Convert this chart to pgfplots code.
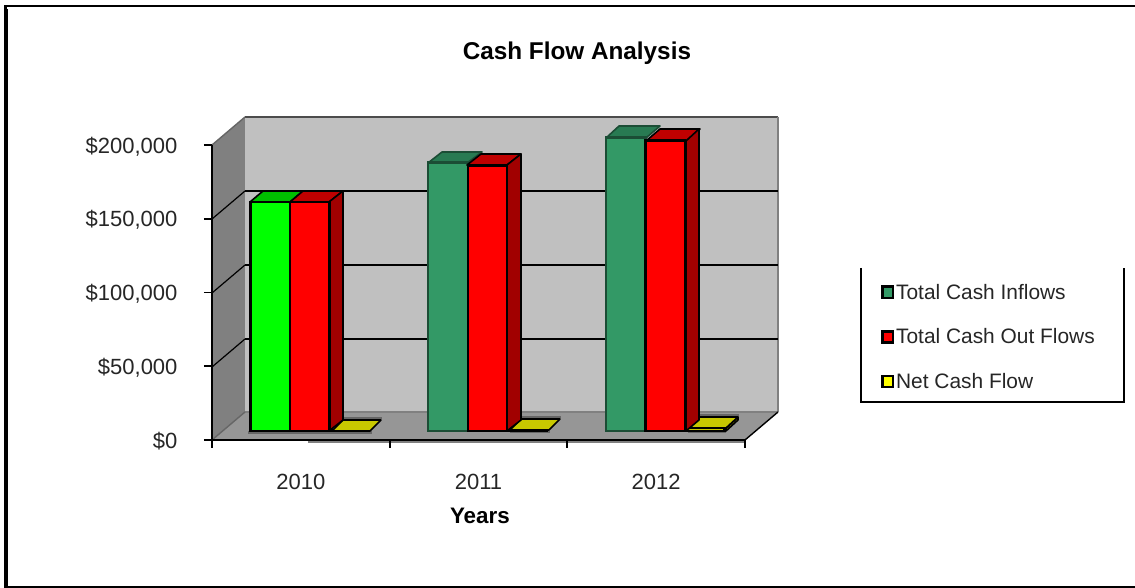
\documentclass[border=0pt]{standalone}
\usepackage{pgfplots}
\pgfplotsset{compat=1.18}
\usepackage{fontspec}
\setmainfont{Liberation Sans}
\definecolor{sea}{HTML}{339966}
\definecolor{seatop}{HTML}{287A52}
\definecolor{seaedge}{HTML}{1B4D35}
\definecolor{wallback}{HTML}{C0C0C0}
\definecolor{wallside}{HTML}{808080}
\definecolor{wallfloor}{HTML}{969696}
\definecolor{yel}{HTML}{FFFF00}
\definecolor{yeltop}{HTML}{C8C800}
\definecolor{yelside}{HTML}{8A8A00}
\pgfplotsset{
  px/.style={forget plot,no markers,
    x filter/.expression={(x-212)/177.667},
    y filter/.expression={(440-y)*677.97}},
  face/.style={px,draw=#1,line width=1.6pt,line join=round},
  wall/.style={px,draw=none},
  barstyle/.style={forget plot,ybar,bar width=39.5pt,xshift=9pt,yshift=9pt,line width=2.2pt},
}
\begin{document}
\begin{tikzpicture}[x=1pt,y=1pt]
\path[use as bounding box] (0,0) rectangle (1135,588);
\fill[white] (0,0) rectangle (1135,588);
\draw[black,line width=2.4pt] (1135,582) -- (5.5,582) -- (5.5,0);
\draw[black,line width=1pt] (7.5,579) -- (7.5,0);
\draw[black,line width=1.6pt] (5.5,0.8) -- (1135,0.8);
\begin{axis}[
  at={(212pt,148pt)},anchor=south west,
  scale only axis,width=533pt,height=295pt,
  xmin=0,xmax=3,ymin=0,ymax=200000,
  clip=false,axis on top,
  axis x line*=bottom,axis y line*=left,
  axis line style={black,line width=1.8pt},
  scaled y ticks=false,
  xtick={0,1,2,3},xticklabels={2010,2011,2012},x tick label as interval,
  ytick={0,50000,100000,150000,200000},
  yticklabels={{\$0},{\$50,000},{\$100,000},{\$150,000},{\$200,000}},
  tick align=outside,major tick length=8pt,
  tick style={black,line width=1.8pt},
  tick label style={font=\fontsize{22}{24}\selectfont,text=black!85},
  y tick label style={xshift=-23pt,yshift=-1.5pt},
  x tick label style={yshift=-23pt},
  title={\fontsize{24.3}{26}\selectfont\bfseries Cash Flow Analysis},
  title style={at={(axis cs:2.054,258300)},anchor=center},
  xlabel={\fontsize{22.4}{24}\selectfont\bfseries Years},
  xlabel style={at={(axis cs:1.508,-51500)},anchor=center},
  legend style={at={(axis cs:3.765,107300)},anchor=north west,draw=none,fill=none,
    font=\fontsize{20.9}{23}\selectfont,text=black!85,row sep=24pt,inner sep=0pt,
    /tikz/every even column/.style={column sep=1pt}},
  legend cell align=left,
]
\addlegendimage{legend image code/.code={\draw[black,line width=2.6pt,fill=sea] (0pt,-5.6pt) rectangle (10.4pt,5.6pt);}}
\addlegendentry{Total Cash Inflows}
\addlegendimage{legend image code/.code={\draw[black,line width=2.6pt,fill=red] (0pt,-5.6pt) rectangle (10.4pt,5.6pt);}}
\addlegendentry{Total Cash Out Flows}
\addlegendimage{legend image code/.code={\draw[black,line width=2.6pt,fill=yel] (0pt,-5.6pt) rectangle (10.4pt,5.6pt);}}
\addlegendentry{Net Cash Flow}

% walls and floor (pixel positions of the reference)
\addplot[wall,fill=wallside] coordinates {(212,145)(245,117)(245,412)(212,440)} --cycle;
\addplot[wall,fill=wallback] coordinates {(245,117)(778,117)(778,412)(245,412)} --cycle;
\addplot[wall,fill=wallfloor] coordinates {(212,440)(245,412)(778,412)(745,440)} --cycle;
\addplot[px,draw=black!70,line width=1.6pt] coordinates {(245,117)(778,117)};
\addplot[px,draw=wallside,line width=2pt] coordinates {(778,117)(778,412)};
\addplot[px,draw=wallside,line width=1.6pt] coordinates {(245,412)(778,412)};
\addplot[px,draw=black!60,line width=1.4pt] coordinates {(212,145)(245,117)};
\addplot[px,draw=black!60,line width=1.4pt] coordinates {(212,440)(245,412)};
\addplot[px,draw=black,line width=1.4pt] coordinates {(745,440)(778,412)};
\addplot[px,draw=black,line width=2.2pt] coordinates {(245,191)(778,191)};
\addplot[px,draw=black,line width=2.2pt] coordinates {(245,265)(778,265)};
\addplot[px,draw=black,line width=2.2pt] coordinates {(245,339)(778,339)};
\addplot[px,draw=black,line width=1.2pt] coordinates {(212,219)(245,191)};
\addplot[px,draw=black,line width=1.2pt] coordinates {(212,293)(245,265)};
\addplot[px,draw=black,line width=1.2pt] coordinates {(212,367)(245,339)};
\addplot[px,draw=black!50,line width=2pt] coordinates {(308,442.5)(745,442.5)};
\addplot[px,draw=black!60,line width=2.2pt] coordinates {(248,432.5)(372,432.5)};
\addplot[px,draw=black!60,line width=2pt] coordinates {(510,432.5)(550,432.5)};
\addplot[px,draw=black!60,line width=2pt] coordinates {(688,432.5)(726,432.5)};
\addplot[px,draw=black!60,line width=2.2pt] coordinates {(343,418)(382,418)};
\addplot[px,draw=black!60,line width=2.2pt] coordinates {(521,417)(561,417)};
\addplot[px,draw=black!60,line width=2.2pt] coordinates {(699,415)(739,415)};

% Net Cash Flow
\addplot[barstyle,bar shift=39.5pt,fill=yeltop,draw=black] coordinates {(0.5,500)(1.5,1000)(2.5,2000)};
\addplot[face=black,fill=yeltop] coordinates {(332,431)(343,420)(381,420)(370,431)} --cycle;
\addplot[face=black,fill=yeltop] coordinates {(510,430)(521,419)(560,419)(549,430)} --cycle;
\addplot[face=black,fill=yelside] coordinates {(726,428)(738,417)(738,420)(726,431)} --cycle;
\addplot[face=black,fill=yeltop] coordinates {(688,428)(699,417)(738,417)(726,428)} --cycle;

% Total Cash Inflows
\addplot[face=black,fill=green!75!black] coordinates {(250,202)(263,191)(303,191)(290,202)} --cycle;
\addplot[face=seaedge,fill=seatop] coordinates {(428,163)(442,152)(482,152)(467,163)} --cycle;
\addplot[face=seaedge,fill=seatop] coordinates {(606,138)(619,126)(660,126)(646,138)} --cycle;
\addplot[barstyle,bar shift=-39.5pt,fill=green,draw=black] coordinates {(0.5,155000)};
\addplot[barstyle,bar shift=-39.5pt,fill=sea,draw=seaedge] coordinates {(1.5,182000)(2.5,199000)};

% Total Cash Out Flows
\addplot[face=black,fill=red!75!black] coordinates {(290,202)(303,191)(343,191)(329,202)} --cycle;
\addplot[face=black,fill=red!63!black] coordinates {(329,202)(343,191)(343,420)(329,431)} --cycle;
\addplot[face=black,fill=red!75!black] coordinates {(467,165)(481,154)(521,154)(507,165)} --cycle;
\addplot[face=black,fill=red!63!black] coordinates {(507,165)(521,154)(521,420)(507,431)} --cycle;
\addplot[face=black,fill=red!75!black] coordinates {(646,141)(660,129)(700,129)(686,141)} --cycle;
\addplot[face=black,fill=red!63!black] coordinates {(686,141)(699,129)(699,420)(686,431)} --cycle;
\addplot[barstyle,bar shift=0pt,fill=red,draw=black] coordinates {(0.5,155000)(1.5,180000)(2.5,197000)};
\end{axis}
\draw[black,line width=2pt] (861,320) -- (861,186) -- (1124,186) -- (1124,320);
\end{tikzpicture}
\end{document}
